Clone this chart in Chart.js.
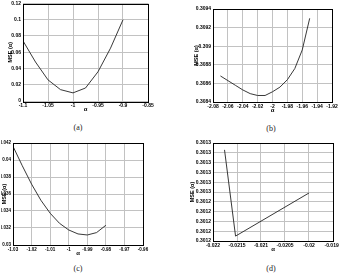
<!DOCTYPE html>
<html><head><meta charset="utf-8">
<script src="https://cdn.jsdelivr.net/npm/chart.js@4/dist/chart.umd.min.js"></script>
<style>
html,body{margin:0;padding:0;width:339px;height:273px;overflow:hidden;background:#fff;}
canvas{position:absolute;}
.cap{position:absolute;font-family:"Liberation Serif","DejaVu Serif",serif;font-size:8px;color:#222;transform:translate(-50%,-50%);white-space:nowrap;}
</style></head><body>
<canvas id="ca"></canvas>
<canvas id="cb"></canvas>
<canvas id="cc"></canvas>
<canvas id="cd"></canvas>
<div class="cap" style="left:78px;top:127px">(a)</div>
<div class="cap" style="left:271px;top:128px">(b)</div>
<div class="cap" style="left:78px;top:268px">(c)</div>
<div class="cap" style="left:271px;top:268px">(d)</div>
<script>
// ---- panel (a)
const alphaA = [-1.1, -1.075, -1.05, -1.025, -1, -0.975, -0.95, -0.925, -0.9];
const mseA = [0.074, 0.048, 0.026, 0.014, 0.010, 0.016, 0.036, 0.065, 0.100];
const xTicksA = [-1.1, -1.05, -1, -0.95, -0.9, -0.85];
const xLabelsA = ['-1.1', '-1.05', '-1', '-0.95', '-0.9', '-0.85'];
const yTicksA = [0, 0.02, 0.04, 0.06, 0.08, 0.1, 0.12];
const yLabelsA = ['0', '0.02', '0.04', '0.06', '0.08', '0.1', '0.12'];
// ---- panel (b)
const alphaB = [-2.07, -2.06, -2.05, -2.04, -2.03, -2.02, -2.01, -2, -1.99, -1.98, -1.97, -1.96, -1.95];
const mseB = [0.30868, 0.30863, 0.30858, 0.30853, 0.30849, 0.30847, 0.30847, 0.30851, 0.30856, 0.30864, 0.30876, 0.30896, 0.30930];
const xTicksB = [-2.08, -2.06, -2.04, -2.02, -2, -1.98, -1.96, -1.94, -1.92];
const xLabelsB = ['-2.08', '-2.06', '-2.04', '-2.02', '-2', '-1.98', '-1.96', '-1.94', '-1.92'];
const yTicksB = [0.3084, 0.3086, 0.3088, 0.309, 0.3092, 0.3094];
const yLabelsB = ['0.3084', '0.3086', '0.3088', '0.309', '0.3092', '0.3094'];
// ---- panel (c)
const alphaC = [-1.03, -1.025, -1.02, -1.015, -1.01, -1.005, -1, -0.995, -0.99, -0.985, -0.98];
const mseC = [0.04161, 0.03932, 0.03716, 0.03527, 0.03374, 0.03256, 0.03177, 0.03130, 0.03118, 0.03146, 0.03232];
const xTicksC = [-1.03, -1.02, -1.01, -1, -0.99, -0.98, -0.97, -0.96];
const xLabelsC = ['-1.03', '-1.02', '-1.01', '-1', '-0.99', '-0.98', '-0.97', '-0.96'];
const yTicksC = [0.03, 0.032, 0.034, 0.036, 0.038, 0.04, 0.042];
const yLabelsC = ['0.03', '0.032', '0.034', '0.036', '0.038', '0.04', '0.042'];
// ---- panel (d)
const alphaD = [-0.02176, -0.02153, -0.02];
const mseD = [0.301293, 0.301205, 0.301249];
const xTicksD = [-0.022, -0.0215, -0.021, -0.0205, -0.02, -0.0195];
const xLabelsD = ['-0.022', '-0.0215', '-0.021', '-0.0205', '-0.02', '-0.0195'];
const yTicksD = [0.3012, 0.30121, 0.30122, 0.30123, 0.30124, 0.30125, 0.30126, 0.30127, 0.30128, 0.30129, 0.3013];
const yLabelsD = ['0.3012', '0.3012', '0.3012', '0.3012', '0.3012', '0.3013', '0.3013', '0.3013', '0.3013', '0.3013', '0.3013'];

const xTitle = 'α';
const yTitle = 'MSE (α)';

const frame = {
  id: 'frame',
  afterDraw(c) {
    const a = c.chartArea, g = c.ctx;
    g.save();
    g.strokeStyle = '#000';
    g.lineWidth = 1;
    g.strokeRect(Math.round(a.left) + 0.5, Math.round(a.top) + 0.5, Math.round(a.right - a.left), Math.round(a.bottom - a.top));
    g.restore();
  }
};

const panels = [
  {id: 'ca', left: 0, top: 0, w: 170, h: 113, pad: {left: 7, top: 3, right: 22, bottom: 0}, yW: 16, xH: 12, fs: 5,
   x: alphaA, y: mseA, xt: xTicksA, xl: xLabelsA, yt: yTicksA, yl: yLabelsA},
  {id: 'cb', left: 170, top: 0, w: 180, h: 114, pad: {left: 23, top: 9, right: 18, bottom: 0}, yW: 20, xH: 12, fs: 5,
   x: alphaB, y: mseB, xt: xTicksB, xl: xLabelsB, yt: yTicksB, yl: yLabelsB},
  {id: 'cc', left: 0, top: 136, w: 170, h: 121, pad: {left: 1, top: 7, right: 27, bottom: 0}, yW: 12, xH: 12, fs: 4.5,
   x: alphaC, y: mseC, xt: xTicksC, xl: xLabelsC, yt: yTicksC, yl: yLabelsC},
  {id: 'cd', left: 170, top: 136, w: 180, h: 117, pad: {left: 19, top: 7, right: 17, bottom: 0}, yW: 24, xH: 12, fs: 5,
   x: alphaD, y: mseD, xt: xTicksD, xl: xLabelsD, yt: yTicksD, yl: yLabelsD}
];

panels.forEach(p => {
  const cv = document.getElementById(p.id);
  cv.width = p.w; cv.height = p.h;
  cv.style.left = p.left + 'px'; cv.style.top = p.top + 'px';
  cv.style.width = p.w + 'px'; cv.style.height = p.h + 'px';
  const font = {family: '"Liberation Sans", Arial, sans-serif', size: p.fs, weight: 'bold'};
  const yFont = {...font, lineHeight: 0.6};
  const grid = {color: '#c2c2c2', lineWidth: 1, drawTicks: false, tickLength: 0};
  new Chart(cv, {
    type: 'scatter',
    data: {datasets: [{
      data: p.x.map((v, i) => ({x: v, y: p.y[i]})),
      showLine: true, borderColor: '#222', borderWidth: 0.9, pointRadius: 0, tension: 0, fill: false
    }]},
    options: {
      responsive: false, animation: false, devicePixelRatio: 1,
      layout: {padding: p.pad},
      plugins: {legend: {display: false}, tooltip: {enabled: false}},
      scales: {
        x: {
          type: 'linear', min: p.xt[0], max: p.xt[p.xt.length - 1],
          afterBuildTicks: s => { s.ticks = p.xt.map(v => ({value: v})); },
          afterFit: s => { s.height = p.xH; },
          ticks: {font, color: '#000', padding: 2, maxRotation: 0, autoSkip: false, callback: (v, i) => p.xl[i]},
          grid, border: {display: false},
          title: {display: true, text: xTitle, font: {...font, size: 6}, color: '#000', padding: 0}
        },
        y: {
          type: 'linear', min: p.yt[0], max: p.yt[p.yt.length - 1],
          afterBuildTicks: s => { s.ticks = p.yt.map(v => ({value: v})); },
          afterFit: s => { s.width = p.yW; },
          ticks: {font: yFont, color: '#000', padding: 2, autoSkip: false, callback: (v, i) => p.yl[i]},
          grid, border: {display: false},
          title: {display: true, text: yTitle, font: {...font, size: 5.5}, color: '#000', padding: 0}
        }
      }
    },
    plugins: [frame]
  });
});
</script>
</body></html>
